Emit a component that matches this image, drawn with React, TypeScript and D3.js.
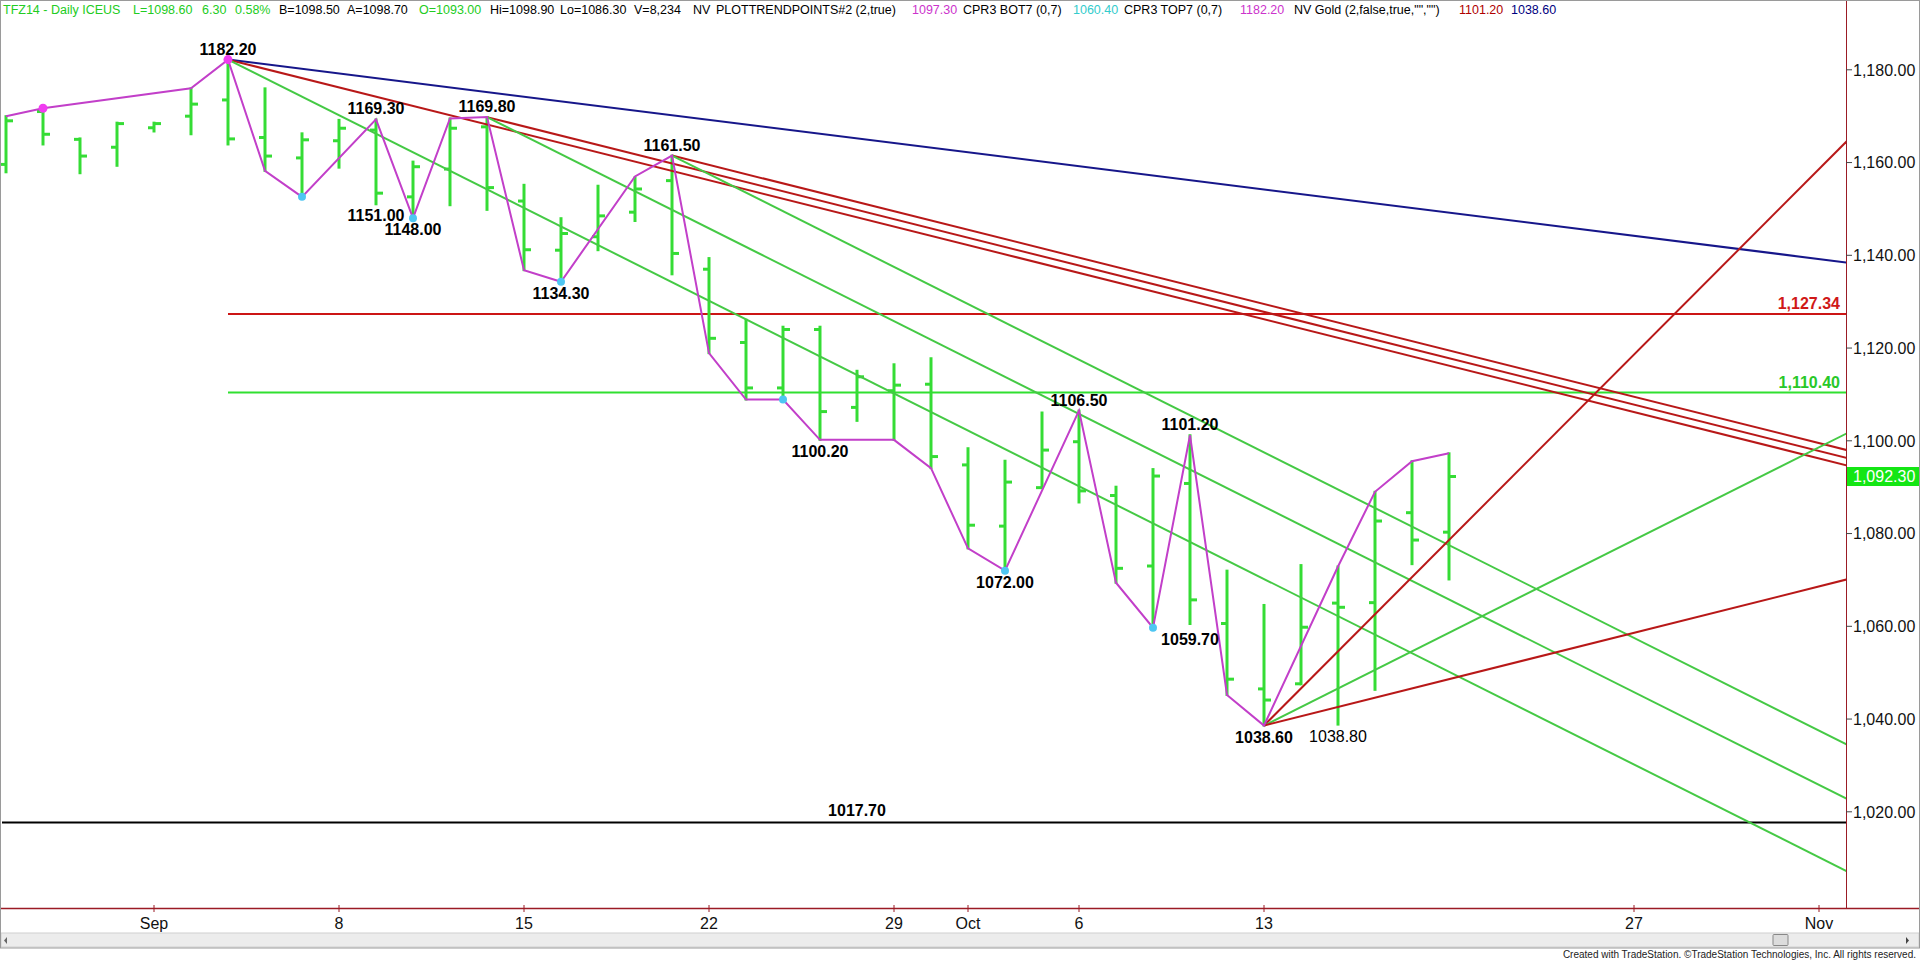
import React from "react";
import * as d3 from "d3";

// ---------- DATA ----------
const barDates = [
  "2014-08-26","2014-08-27","2014-08-28","2014-08-29","2014-09-01","2014-09-02","2014-09-03","2014-09-04","2014-09-05",
  "2014-09-08","2014-09-09","2014-09-10","2014-09-11","2014-09-12","2014-09-15","2014-09-16","2014-09-17","2014-09-18","2014-09-19",
  "2014-09-22","2014-09-23","2014-09-24","2014-09-25","2014-09-26","2014-09-29","2014-09-30","2014-10-01","2014-10-02","2014-10-03",
  "2014-10-06","2014-10-07","2014-10-08","2014-10-09","2014-10-10","2014-10-13","2014-10-14","2014-10-15","2014-10-16","2014-10-17","2014-10-20",
];
const opens = [1159.6,1171.0,1165.0,1163.3,1167.5,1170.0,1173.5,1165.4,1161.0,1164.7,1167.0,1152.6,1158.6,1167.7,1151.7,1141.1,1144.0,1149.3,1156.1,1137.0,1121.2,1111.4,1124.0,1107.2,1110.8,1112.2,1094.8,1081.6,1089.9,1099.8,1088.2,1073.0,1090.8,1060.6,1046.5,1047.6,1065.0,1065.1,1084.5,1080.3];
const highs = [1170.0,1171.7,1165.2,1168.6,1168.6,1176.0,1182.2,1176.0,1166.3,1169.2,1169.3,1160.2,1169.5,1169.8,1155.2,1148.0,1155.0,1156.8,1161.5,1139.4,1126.1,1124.6,1124.6,1115.1,1116.5,1117.8,1098.4,1095.7,1106.1,1106.5,1090.1,1093.9,1101.2,1072.0,1064.6,1073.2,1072.9,1089.0,1095.6,1097.3];
const lows = [1157.9,1163.9,1157.7,1159.3,1166.7,1166.1,1163.9,1158.2,1152.6,1158.9,1151.0,1148.0,1150.8,1149.8,1136.8,1134.3,1141.1,1147.4,1135.9,1118.9,1108.9,1108.9,1100.2,1104.3,1100.2,1094.1,1076.8,1072.0,1089.8,1086.7,1069.4,1059.7,1060.5,1045.2,1038.6,1047.5,1038.8,1046.3,1073.4,1070.1];
const closes = [1169.0,1166.1,1161.4,1168.4,1168.4,1172.6,1165.1,1161.4,1164.9,1167.4,1153.4,1159.1,1167.4,1154.6,1141.2,1144.7,1148.5,1154.3,1140.4,1122.1,1111.4,1124.0,1106.3,1113.8,1112.0,1096.6,1081.8,1091.1,1098.0,1089.2,1072.5,1092.4,1065.7,1048.6,1044.1,1059.8,1064.1,1082.7,1078.6,1092.3];

// swing (trend points) line
const swingDates = ["2014-08-26","2014-08-27","2014-09-02","2014-09-03","2014-09-04","2014-09-05","2014-09-09","2014-09-10","2014-09-11","2014-09-12","2014-09-15","2014-09-16","2014-09-18","2014-09-19","2014-09-22","2014-09-23","2014-09-24","2014-09-25","2014-09-26","2014-09-29","2014-09-30","2014-10-01","2014-10-02","2014-10-06","2014-10-07","2014-10-08","2014-10-09","2014-10-10","2014-10-13","2014-10-15","2014-10-16","2014-10-17","2014-10-20"];
const swingValues = [1170.0,1171.7,1176.0,1182.2,1158.2,1152.6,1169.3,1148.0,1169.5,1169.8,1136.8,1134.3,1157.0,1161.5,1118.9,1108.9,1108.9,1100.2,1100.2,1100.2,1094.1,1076.8,1072.0,1106.5,1069.4,1059.7,1101.2,1045.2,1038.6,1072.9,1089.0,1095.6,1097.3];

const topDotDates = ["2014-08-27","2014-09-03"];
const topDotValues = [1171.7,1182.2];
const botDotDates = ["2014-09-05","2014-09-10","2014-09-16","2014-09-24","2014-10-02","2014-10-08"];
const botDotValues = [1152.6,1148.0,1134.3,1108.9,1072.0,1059.7];

// swing labels
const highLabelDates = ["2014-09-03","2014-09-09","2014-09-12","2014-09-19","2014-10-06","2014-10-09"];
const highLabelValues = [1182.2,1169.3,1169.8,1161.5,1106.5,1101.2];
const lowLabelDates = ["2014-09-09","2014-09-10","2014-09-16","2014-09-25","2014-10-02","2014-10-09","2014-10-13","2014-10-15"];
const lowLabelValues = [1151.0,1148.0,1134.3,1100.2,1072.0,1059.7,1038.6,1038.8];

// angle lines: start date, start price, $ per trading day
const angleDates = ["2014-09-03","2014-09-03","2014-09-12","2014-09-19","2014-09-03","2014-09-12","2014-09-19","2014-10-13","2014-10-13","2014-10-13"];
const anglePrices = [1182.2,1182.2,1169.8,1161.5,1182.2,1169.8,1161.5,1038.6,1038.6,1038.6];
const angleRates = [-1,-2,-2,-2,-4,-4,-4,8,4,2];
const angleKinds = ["blue","red","red","red","green","green","green","red","green","red"];

// horizontal levels
const levelValues = [1127.34,1110.40,1017.70];
const levelStartDates = ["2014-09-03","2014-09-03",null];
const levelKinds = ["red","green","black"];

const yTicks = [1020,1040,1060,1080,1100,1120,1140,1160,1180];
const xTickDates = ["2014-09-01","2014-09-08","2014-09-15","2014-09-22","2014-09-29","2014-10-01","2014-10-06","2014-10-13","2014-10-27","2014-11-03"];
const xTickLabels = ["Sep","8","15","22","29","Oct","6","13","27","Nov"];
const lastPrice = 1092.30;

// ---------- STYLE ----------
const W = 1920, H = 964;
const plotRight = 1846, plotTop = 18, plotBottom = 908;
const FONT = "Arial, 'Liberation Sans', Helvetica, sans-serif";
const COL: Record<string,string> = {
  bar: "#35dc35",
  green: "#45c945",
  red: "#b81818",
  blue: "#16168a",
  black: "#111111",
  swing: "#c23fc9",
  topDot: "#f03cf0",
  botDot: "#4ec6f2",
  axis: "#9b1b25",
  levelRed: "#cc1515",
  levelGreen: "#30e030",
};
const levelColor: Record<string,string> = { red: COL.levelRed, green: COL.levelGreen, black: "#000" };
const levelTextColor: Record<string,string> = { red: "#d01818", green: "#28c828", black: "#000" };

const headerSegs = [
  { x: 3, t: "TFZ14 - Daily  ICEUS", c: "#22cc22" },
  { x: 133, t: "L=1098.60", c: "#22cc22" },
  { x: 202, t: "6.30", c: "#22cc22" },
  { x: 235, t: "0.58%", c: "#22cc22" },
  { x: 279, t: "B=1098.50", c: "#000" },
  { x: 347, t: "A=1098.70", c: "#000" },
  { x: 419, t: "O=1093.00", c: "#22cc22" },
  { x: 490, t: "Hi=1098.90", c: "#000" },
  { x: 560, t: "Lo=1086.30", c: "#000" },
  { x: 634, t: "V=8,234", c: "#000" },
  { x: 693, t: "NV", c: "#000" },
  { x: 716, t: "PLOTTRENDPOINTS#2 (2,true)", c: "#000" },
  { x: 912, t: "1097.30", c: "#cc33cc" },
  { x: 963, t: "CPR3 BOT7 (0,7)", c: "#000" },
  { x: 1073, t: "1060.40", c: "#33cccc" },
  { x: 1124, t: "CPR3 TOP7 (0,7)", c: "#000" },
  { x: 1240, t: "1182.20", c: "#cc33cc" },
  { x: 1294, t: "NV Gold (2,false,true,\"\",\"\")", c: "#000" },
  { x: 1459, t: "1101.20", c: "#b00000" },
  { x: 1511, t: "1038.60", c: "#000080" },
];

// ---------- SCALES ----------
const parse = d3.timeParse("%Y-%m-%d");
const t0 = parse(barDates[0]) as Date;
function tIndex(s: string): number {
  const d = parse(s) as Date;
  return d3.timeDay.range(t0, d).filter((q) => q.getDay() !== 0 && q.getDay() !== 6).length;
}
const x = d3.scaleLinear().domain([0, 4]).range([6, 154]);
const y = d3.scaleLinear().domain([1020, 1180]).range([811.8, 69.8]);
const endIdx = x.invert(plotRight);

export default function App() {
  const bars = barDates.map((d, i) => ({ i: tIndex(d), o: opens[i], h: highs[i], l: lows[i], c: closes[i] }));
  const line = d3.line<[number, number]>().x((p) => x(p[0])).y((p) => y(p[1]));
  const swingPts: [number, number][] = swingDates.map((d, i) => [tIndex(d), swingValues[i]]);
  const fmt = d3.format(",.2f");
  const fmt2 = d3.format(".2f");

  return (
    <svg width={W} height={H} style={{ position: "absolute", left: 0, top: 0, display: "block", background: "#fff" }} fontFamily={FONT}>
      <rect x={0} y={0} width={W} height={H} fill="#fff" />
      {/* header */}
      <g fontSize={12.5}>
        {headerSegs.map((s, k) => (
          <text key={k} x={s.x} y={14} fill={s.c}>{s.t}</text>
        ))}
      </g>
      <defs>
        <clipPath id="plotclip">
          <rect x={0} y={plotTop} width={plotRight} height={plotBottom - plotTop} />
        </clipPath>
      </defs>
      <g clipPath="url(#plotclip)">
        {/* horizontal levels */}
        {levelValues.map((v, k) => {
          const x0 = levelStartDates[k] ? x(tIndex(levelStartDates[k] as string)) : 2;
          return <line key={k} x1={x0} x2={plotRight} y1={y(v)} y2={y(v)} stroke={levelColor[levelKinds[k]]} strokeWidth={2} />;
        })}
        {/* bars */}
        {bars.map((b, k) => (
          <g key={k} stroke={COL.bar} strokeWidth={3}>
            <line x1={x(b.i)} x2={x(b.i)} y1={y(b.h) - 1} y2={y(b.l) + 1} />
            <line x1={x(b.i) - 6} x2={x(b.i)} y1={y(b.o)} y2={y(b.o)} />
            <line x1={x(b.i)} x2={x(b.i) + 7} y1={y(b.c)} y2={y(b.c)} />
          </g>
        ))}
        {/* angle lines */}
        {angleDates.map((d, k) => {
          const i0 = tIndex(d);
          const p0 = anglePrices[k];
          const pts: [number, number][] = [[i0, p0], [endIdx + 1, p0 + angleRates[k] * (endIdx + 1 - i0)]];
          return <path key={k} d={line(pts) as string} fill="none" stroke={COL[angleKinds[k]]} strokeWidth={2} />;
        })}
        {/* swing line */}
        <path d={line(swingPts) as string} fill="none" stroke={COL.swing} strokeWidth={2} />
        {topDotDates.map((d, k) => (
          <circle key={"t" + k} cx={x(tIndex(d))} cy={y(topDotValues[k])} r={4.5} fill={COL.topDot} />
        ))}
        {botDotDates.map((d, k) => (
          <circle key={"b" + k} cx={x(tIndex(d))} cy={y(botDotValues[k])} r={4} fill={COL.botDot} />
        ))}
        {/* swing labels */}
        <g fontSize={16} fontWeight="bold" textAnchor="middle" fill="#000">
          {highLabelDates.map((d, k) => (
            <text key={"h" + k} x={x(tIndex(d))} y={y(highLabelValues[k]) - 5}>{fmt2(highLabelValues[k])}</text>
          ))}
          {lowLabelDates.map((d, k) => (
            <text key={"l" + k} x={x(tIndex(d))} y={y(lowLabelValues[k]) + 17} fontWeight={k === lowLabelDates.length - 1 ? "normal" : "bold"}>{fmt2(lowLabelValues[k])}</text>
          ))}
        </g>
        {/* level labels */}
        <g fontSize={16} fontWeight="bold">
          <text x={1840} y={y(levelValues[0]) - 5} textAnchor="end" fill={levelTextColor.red}>{fmt(levelValues[0])}</text>
          <text x={1840} y={y(levelValues[1]) - 5} textAnchor="end" fill={levelTextColor.green}>{fmt(levelValues[1])}</text>
          <text x={x(tIndex("2014-09-26"))} y={y(levelValues[2]) - 6} textAnchor="middle" fill="#000">{fmt2(levelValues[2])}</text>
        </g>
      </g>
      {/* axes */}
      <line x1={plotRight + 0.5} x2={plotRight + 0.5} y1={0} y2={plotBottom} stroke={COL.axis} strokeWidth={1} />
      <line x1={0} x2={W} y1={plotBottom + 0.5} y2={plotBottom + 0.5} stroke={COL.axis} strokeWidth={1.5} />
      <g fontSize={16} fill="#111">
        {yTicks.map((v) => (
          <g key={v}>
            <line x1={plotRight} x2={plotRight + 6} y1={y(v)} y2={y(v)} stroke="#444" strokeWidth={1} />
            <text x={1853} y={y(v)} dy="0.36em">{fmt(v)}</text>
          </g>
        ))}
      </g>
      {/* last price marker */}
      <rect x={plotRight + 1} y={y(lastPrice) - 9.5} width={W - plotRight - 1} height={19} fill="#14e614" />
      <text x={1853} y={y(lastPrice)} dy="0.36em" fontSize={16} fill="#fff">{fmt(lastPrice)}</text>
      <g fontSize={16} fill="#111" textAnchor="middle">
        {xTickDates.map((d, k) => (
          <g key={d}>
            <line x1={x(tIndex(d))} x2={x(tIndex(d))} y1={plotBottom - 3} y2={plotBottom + 4} stroke={COL.axis} strokeWidth={1} />
            <text x={x(tIndex(d))} y={929}>{xTickLabels[k]}</text>
          </g>
        ))}
      </g>
      {/* scrollbar */}
      <rect x={1} y={933} width={W - 2} height={14} fill="#ececec" stroke="#d0d0d0" />
      <rect x={1773} y={934.5} width={15} height={11} fill="#dcdcdc" stroke="#888" rx={1} />
      <path d="M7,937 L4,940.5 L7,944 Z" fill="#666" />
      <path d="M1906,937 L1909,940.5 L1906,944 Z" fill="#444" />
      {/* frame */}
      <rect x={0.5} y={0.5} width={W - 1} height={947.5} fill="none" stroke="#9a9a9a" />
      {/* footer */}
      <text x={1916} y={958} fontSize={10} textAnchor="end" fill="#222">
        Created with TradeStation. ©TradeStation Technologies, Inc. All rights reserved.
      </text>
    </svg>
  );
}
